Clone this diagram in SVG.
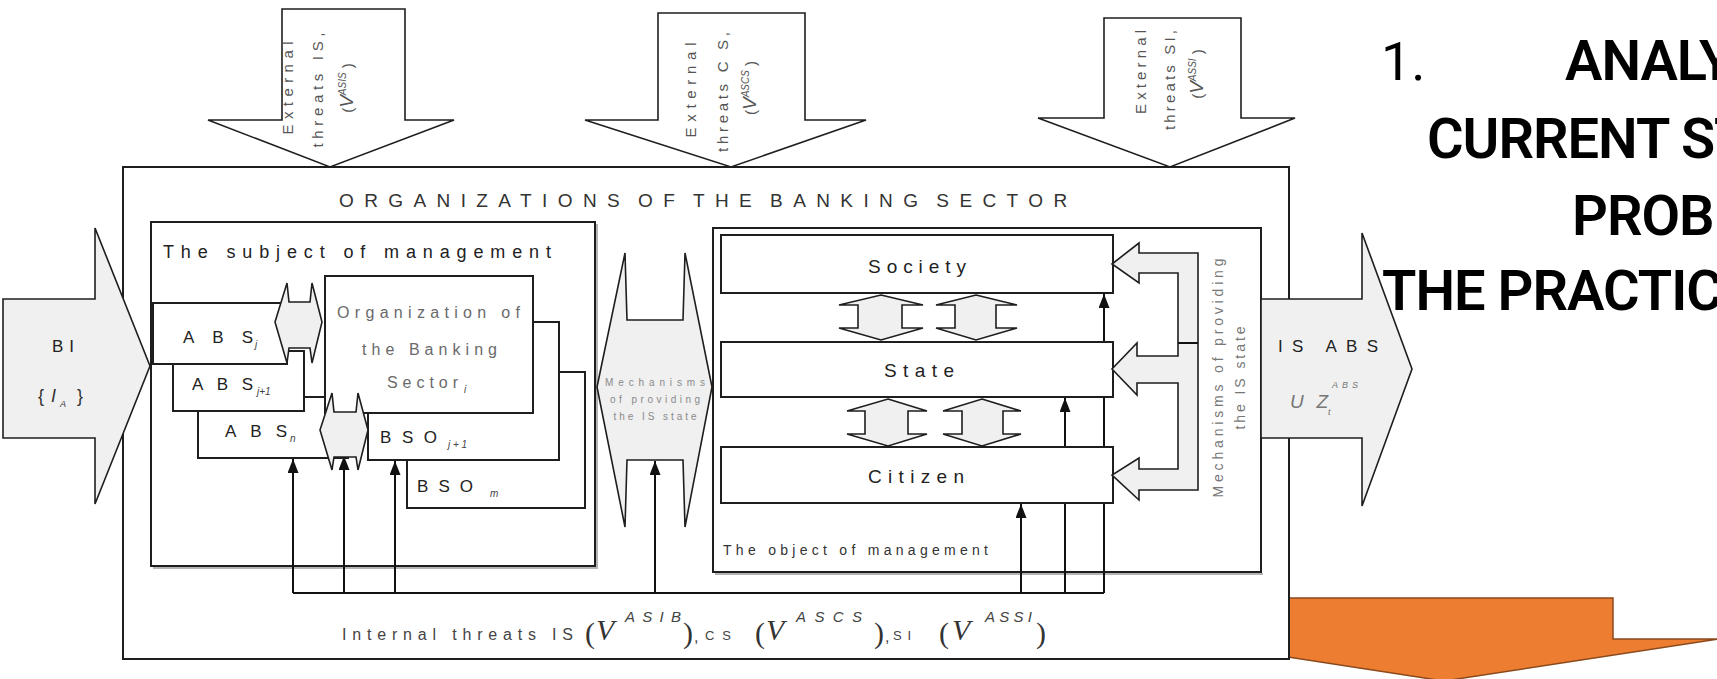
<svg xmlns="http://www.w3.org/2000/svg" width="1717" height="679" viewBox="0 0 1717 679">
  <style>
    text { font-family: "Liberation Sans", Arial, sans-serif; }
    .box { fill: #fff; stroke: #1e1e1e; stroke-width: 2; }
    .shadow { fill: none; stroke: #b4b4b4; stroke-width: 2; }
    .grey { fill: #f0f0f0; stroke: #1e1e1e; stroke-width: 1.6; stroke-linejoin: miter; }
    .white { fill: #fff; stroke: #1e1e1e; stroke-width: 1.6; }
    .wire { fill: none; stroke: #111; stroke-width: 2; }
    .lbl { font-size: 17px; fill: #222; }
    .big { font-size: 19px; fill: #222; }
    .soft { font-size: 16px; fill: #6a6a6a; }
    .tiny { font-size: 10px; fill: #8a8a8a; }
    .rot { font-size: 15px; fill: #555; }
    .sub { font-size: 10px; font-style: italic; fill: #444; }
    .math { font-family: "Liberation Serif", "Times New Roman", serif; font-size: 30px; fill: #333; }
    .mv { font-family: "Liberation Serif", "Times New Roman", serif; font-size: 30px; font-style: italic; fill: #333; }
    .msup { font-size: 15px; font-style: italic; fill: #444; }
    .head { font-family: Roboto, "Liberation Sans", sans-serif; font-size: 56px; font-weight: 600; fill: #000; letter-spacing: -1px; }
    .num { font-family: Roboto, "Liberation Sans", sans-serif; font-size: 54px; font-weight: 400; fill: #000; }
  </style>
  <defs>
    <marker id="tip" viewBox="0 0 14 11" refX="14" refY="5.5" markerWidth="14" markerHeight="11" markerUnits="userSpaceOnUse" orient="auto">
      <path d="M0,0 L14,5.5 L0,11 Z" fill="#111"/>
    </marker>
  </defs>

  <!-- orange down arrow, partly hidden by the sector frame -->
  <g id="orange-arrow">
    <path d="M1275,598 L1613,598 L1613,639 L1718,639 L1444,681 L1170,639 L1275,639 Z" fill="#ED7D31" stroke="#8a4a1c" stroke-width="1.5"/>
  </g>

  <!-- sector frame -->
  <g id="sector">
    <rect class="box" x="123" y="167" width="1166" height="492"/>
    <text x="339" y="207" font-size="19" fill="#333" letter-spacing="10.4" word-spacing="-7.7">ORGANIZATIONS OF THE BANKING SECTOR</text>
  </g>

  <!-- subject of management -->
  <g id="subject">
    <path class="shadow" d="M153,568 H597 V224"/>
    <rect class="box" x="151" y="222" width="444" height="344"/>
    <text x="163" y="258" font-size="18" fill="#222" textLength="388" lengthAdjust="spacing">The subject of management</text>
  </g>

  <!-- object of management container -->
  <g id="object">
    <path class="shadow" d="M715,574 H1263"/>
    <rect class="box" x="713" y="228" width="548" height="344"/>
    <text x="723" y="555" font-size="14" fill="#333" textLength="265" lengthAdjust="spacing">The object of management</text>
  </g>

  <!-- internal threat wiring -->
  <g id="connectors">
    <path class="wire" d="M293,593 H1104"/>
    <path class="wire" d="M293,593 V459" marker-end="url(#tip)"/>
    <path class="wire" d="M344,593 V456" marker-end="url(#tip)"/>
    <path class="wire" d="M395,593 V461" marker-end="url(#tip)"/>
    <path class="wire" d="M655,593 V461" marker-end="url(#tip)"/>
    <path class="wire" d="M1021,593 V504" marker-end="url(#tip)"/>
    <path class="wire" d="M1065,593 V398" marker-end="url(#tip)"/>
    <path class="wire" d="M1104,593 V294" marker-end="url(#tip)"/>
  </g>

  <!-- banking sector organisations stack -->
  <g id="bso-m">
    <rect class="box" x="407" y="372" width="178" height="136"/>
    <text class="lbl" x="417" y="492" textLength="56" lengthAdjust="spacing">BSO</text>
    <text class="sub" x="490" y="497">m</text>
  </g>
  <g id="bso-j1">
    <rect class="box" x="368" y="322" width="191" height="138"/>
    <text class="lbl" x="380" y="443" textLength="57" lengthAdjust="spacing">BSO</text>
    <text class="sub" x="448" y="448">j + 1</text>
  </g>
  <g id="abs-n">
    <rect class="box" x="198" y="397" width="150" height="61"/>
    <text class="lbl" x="225" y="437" textLength="62" lengthAdjust="spacing">ABS</text>
    <text class="sub" x="290" y="442">n</text>
  </g>
  <g id="org-i">
    <rect class="box" x="325" y="276" width="208" height="137"/>
    <text class="soft" x="337" y="318" textLength="183" lengthAdjust="spacing">Organization of</text>
    <text class="soft" x="362" y="355" textLength="135" lengthAdjust="spacing">the Banking</text>
    <text class="soft" x="387" y="388" textLength="71" lengthAdjust="spacing">Sector</text>
    <text class="sub" x="464" y="393" fill="#777">i</text>
  </g>
  <g id="abs-j1">
    <rect class="box" x="173" y="351" width="131" height="60"/>
    <text class="lbl" x="192" y="390" textLength="61" lengthAdjust="spacing">ABS</text>
    <text class="sub" x="257" y="395">j+1</text>
  </g>
  <g id="abs-j">
    <rect class="box" x="153" y="303" width="134" height="61"/>
    <text class="lbl" x="183" y="343" textLength="70" lengthAdjust="spacing">ABS</text>
    <text class="sub" x="255" y="348">j</text>
  </g>
  <g id="link-abs-org">
    <path class="grey" d="M275,322 L287,283 L289,302 L310,302 L312,283 L322,322 L312,363 L310,348 L289,348 L287,363 Z"/>
  </g>
  <g id="link-abs-bso">
    <path class="grey" d="M320,430 L332,393 L334,412 L356,412 L358,393 L368,430 L358,470 L356,457 L334,457 L332,470 Z"/>
  </g>

  <!-- central mechanism link -->
  <g id="mechanism-center">
    <path class="grey" d="M597,387 L625,253 L627,320 L683,320 L685,253 L712,387 L685,527 L683,460 L627,460 L625,527 Z"/>
    <text class="tiny" x="655" y="386" text-anchor="middle" textLength="100" lengthAdjust="spacing">Mechanisms</text>
    <text class="tiny" x="655" y="403" text-anchor="middle" textLength="90" lengthAdjust="spacing">of providing</text>
    <text class="tiny" x="655" y="420" text-anchor="middle" textLength="83" lengthAdjust="spacing">the IS state</text>
  </g>

  <!-- object levels -->
  <g id="society">
    <rect class="box" x="721" y="235" width="392" height="58"/>
    <text class="big" x="868" y="273" textLength="98" lengthAdjust="spacing">Society</text>
  </g>
  <g id="state">
    <rect class="box" x="721" y="342" width="392" height="55"/>
    <text class="big" x="884" y="377" textLength="70" lengthAdjust="spacing">State</text>
  </g>
  <g id="citizen">
    <rect class="box" x="721" y="447" width="392" height="56"/>
    <text class="big" x="868" y="483" textLength="96" lengthAdjust="spacing">Citizen</text>
  </g>
  <g id="society-state-links">
    <path class="grey" d="M881,295 L923,305 L902,305 L902,328 L923,328 L881,340 L839,328 L858,328 L858,305 L839,305 Z"/>
    <path class="grey" d="M976,295 L1017,305 L996,305 L996,328 L1017,328 L976,340 L936,328 L955,328 L955,305 L936,305 Z"/>
  </g>
  <g id="state-citizen-links">
    <path class="grey" d="M888,399 L927,411 L908,411 L908,434 L927,434 L888,446 L847,434 L865,434 L865,411 L847,411 Z"/>
    <path class="grey" d="M982,399 L1021,411 L1003,411 L1003,434 L1021,434 L982,446 L943,434 L962,434 L962,411 L943,411 Z"/>
  </g>

  <!-- mechanism fork feeding the three levels -->
  <g id="mechanism-right">
    <path class="grey" d="M1139,253 L1198,253 L1198,490 L1139,490 L1139,500 L1112,475 L1139,458 L1139,469 L1178,469 L1178,383 L1137,383 L1137,395 L1112,369 L1137,343 L1137,356 L1178,356 L1178,273 L1139,273 L1139,283 L1112,264 L1139,243 Z"/>
    <path class="wire" d="M1178,343 H1198" stroke-width="1.6"/>
    <text transform="translate(1223,378) rotate(-90)" text-anchor="middle" font-size="14" fill="#777" textLength="239" lengthAdjust="spacing">Mechanisms of providing</text>
    <text transform="translate(1245,378) rotate(-90)" text-anchor="middle" font-size="14" fill="#777" textLength="103" lengthAdjust="spacing">the IS state</text>
  </g>

  <!-- input: banking information -->
  <g id="input-bi">
    <path class="grey" d="M3,299 L95,299 L95,228 L150,366 L95,504 L95,438 L3,438 Z"/>
    <text class="lbl" x="52" y="352" textLength="22" lengthAdjust="spacing" fill="#333">BI</text>
    <text x="38" y="402" font-size="18" fill="#333">{</text>
    <text x="51" y="402" font-size="18" font-style="italic" fill="#333">I</text>
    <text x="60" y="407" font-size="9" font-style="italic" fill="#333">A</text>
    <text x="77" y="402" font-size="18" fill="#333">}</text>
  </g>

  <!-- output: IS of ABS -->
  <g id="output-isabs">
    <path class="grey" d="M1261,299 L1362,299 L1362,233 L1412,369 L1362,506 L1362,438 L1261,438 Z"/>
    <text class="lbl" x="1278" y="352" textLength="100" lengthAdjust="spacing" fill="#333">IS ABS</text>
    <text x="1290" y="408" font-size="19" font-style="italic" fill="#777" textLength="38" lengthAdjust="spacing">UZ</text>
    <text x="1332" y="388" font-size="9" font-style="italic" fill="#777" textLength="26" lengthAdjust="spacing">ABS</text>
    <text x="1328" y="415" font-size="9" font-style="italic" fill="#777">t</text>
  </g>

  <!-- external threats -->
  <g id="threat-is">
    <path class="white" d="M282,9 L405,9 L405,120 L454,120 L330,167 L208,120 L282,120 Z"/>
    <text class="rot" transform="translate(293,88) rotate(-90)" text-anchor="middle" textLength="93" lengthAdjust="spacing">External</text>
    <text class="rot" transform="translate(323,90) rotate(-90)" text-anchor="middle" textLength="115" lengthAdjust="spacing">threats IS,</text>
    <text class="rot" transform="translate(353,88) rotate(-90)" text-anchor="middle">(<tspan font-style="italic" font-size="19">V</tspan><tspan font-size="10" font-style="italic" dy="-7">ASIS</tspan><tspan dy="7"> )</tspan></text>
  </g>
  <g id="threat-cs">
    <path class="white" d="M658,13 L805,13 L805,120 L866,120 L731,167 L585,120 L658,120 Z"/>
    <text class="rot" transform="translate(696,90) rotate(-90)" text-anchor="middle" textLength="95" lengthAdjust="spacing">External</text>
    <text class="rot" transform="translate(728,92) rotate(-90)" text-anchor="middle" textLength="120" lengthAdjust="spacing">threats C S,</text>
    <text class="rot" transform="translate(756,88) rotate(-90)" text-anchor="middle">(<tspan font-style="italic" font-size="19">V</tspan><tspan font-size="10" font-style="italic" dy="-7">ASCS</tspan><tspan dy="7"> )</tspan></text>
  </g>
  <g id="threat-si">
    <path class="white" d="M1104,18 L1241,18 L1241,118 L1295,118 L1170,167 L1038,118 L1104,118 Z"/>
    <text class="rot" transform="translate(1146,72) rotate(-90)" text-anchor="middle" textLength="84" lengthAdjust="spacing">External</text>
    <text class="rot" transform="translate(1175,80) rotate(-90)" text-anchor="middle" textLength="100" lengthAdjust="spacing">threats SI,</text>
    <text class="rot" transform="translate(1203,74) rotate(-90)" text-anchor="middle">(<tspan font-style="italic" font-size="19">V</tspan><tspan font-size="10" font-style="italic" dy="-7">ASSI</tspan><tspan dy="7"> )</tspan></text>
  </g>

  <!-- internal threats caption -->
  <g id="internal-threats">
    <text x="342" y="640" font-size="16" fill="#444" textLength="231" lengthAdjust="spacing">Internal threats IS</text>
    <text class="math" x="585" y="643">(</text>
    <text class="mv" x="596" y="640">V</text>
    <text class="msup" x="625" y="622" textLength="56" lengthAdjust="spacing">ASIB</text>
    <text class="math" x="683" y="643">)</text>
    <text x="694" y="642" font-size="16" fill="#444">,</text>
    <text x="705" y="640" font-size="13" fill="#444" textLength="26" lengthAdjust="spacing">C S</text>
    <text class="math" x="755" y="643">(</text>
    <text class="mv" x="766" y="640">V</text>
    <text class="msup" x="796" y="622" textLength="66" lengthAdjust="spacing">ASCS</text>
    <text class="math" x="874" y="643">)</text>
    <text x="885" y="642" font-size="16" fill="#444">,</text>
    <text x="893" y="640" font-size="13" fill="#444" textLength="18" lengthAdjust="spacing">SI</text>
    <text class="math" x="939" y="643">(</text>
    <text class="mv" x="952" y="640">V</text>
    <text class="msup" x="985" y="622" textLength="47" lengthAdjust="spacing">ASSI</text>
    <text class="math" x="1036" y="643">)</text>
  </g>

  <!-- slide heading -->
  <g id="heading">
    <text class="num" x="1381" y="80">1.</text>
    <text class="head" x="1565" y="80">ANALY</text>
    <text class="head" x="1427" y="158">CURRENT ST</text>
    <text class="head" x="1572" y="235">PROB</text>
    <text class="head" x="1382" y="310">THE PRACTIC</text>
  </g>
</svg>
